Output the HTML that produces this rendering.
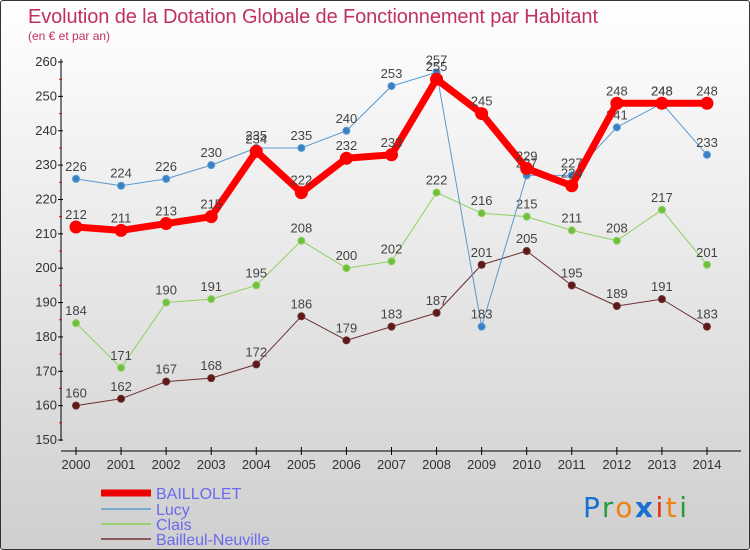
<!DOCTYPE html>
<html><head><meta charset="utf-8"><style>
body{margin:0}
#wrap{position:relative;width:748px;height:548px;border:1px solid #333;border-radius:3px;background:linear-gradient(#ffffff,#cfcfcf);overflow:hidden;font-family:"Liberation Sans",sans-serif}
</style></head><body>
<div id="wrap">
<svg id="svg" width="748" height="548" xmlns="http://www.w3.org/2000/svg" style="position:absolute;left:0;top:0" font-family="'Liberation Sans',sans-serif">
<text x="27" y="22" font-size="20" fill="#c03060" textLength="570">Evolution de la Dotation Globale de Fonctionnement par Habitant</text>
<text x="27" y="39" font-size="12" fill="#c03060">(en € et par an)</text>
<g id="axes"></g><g id="series"></g>
<g>
<line x1="100" y1="492" x2="150" y2="492" stroke="#e00" stroke-width="7"/>
<text x="155" y="498" font-size="16" fill="#6a6aee">BAILLOLET</text>
<line x1="100" y1="508" x2="150" y2="508" stroke="#7aaed0" stroke-width="2"/>
<text x="155" y="514" font-size="16" fill="#6a6aee">Lucy</text>
<line x1="100" y1="523" x2="150" y2="523" stroke="#99d070" stroke-width="2"/>
<text x="155" y="529" font-size="16" fill="#6a6aee">Clais</text>
<line x1="100" y1="538" x2="150" y2="538" stroke="#8a5a5a" stroke-width="2"/>
<text x="155" y="544" font-size="16" fill="#6a6aee">Bailleul-Neuville</text>
</g>
<g font-size="28" font-family="'DejaVu Sans',sans-serif">
<text x="582" y="516" textLength="104"><tspan fill="#1a6fd0">P</tspan><tspan fill="#2a9a40">r</tspan><tspan fill="#f08010">o</tspan><tspan fill="#1a6fd0" font-weight="bold">x</tspan><tspan fill="#e03010">i</tspan><tspan fill="#f08010">t</tspan><tspan fill="#2a9a40">i</tspan></text>
</g>
</svg>
</div>
<script>
const years=[2000,2001,2002,2003,2004,2005,2006,2007,2008,2009,2010,2011,2012,2013,2014];
const baillolet=[212,211,213,215,234,222,232,233,255,245,229,224,248,248,248];
const lucy=[226,224,226,230,235,235,240,253,257,183,227,227,241,248,233];
const clais=[184,171,190,191,195,208,200,202,222,216,215,211,208,217,201];
const bailleul=[160,162,167,168,172,186,179,183,187,201,205,195,189,191,183];
const yTicks=[150,160,170,180,190,200,210,220,230,240,250,260];
const NS="http://www.w3.org/2000/svg";
const X=i=>75+i*45.07, Y=v=>439-(v-150)*3.436;
function mk(t,a,p){const e=document.createElementNS(NS,t);for(const k in a)e.setAttribute(k,a[k]);p.appendChild(e);return e;}
const ax=document.getElementById('axes');
const ya=mk('line',{x1:60,y1:58,x2:60,y2:440,stroke:'#000'},ax);


const xa=mk('line',{x1:60,y1:450,x2:740,y2:450,stroke:'#000'},ax);


yTicks.forEach(v=>{
 mk('line',{x1:57,y1:Y(v),x2:62,y2:Y(v),stroke:'#000'},ax);
 if(v<260) mk('line',{x1:58,y1:Y(v+5),x2:61,y2:Y(v+5),stroke:'#e00'},ax);
 const t=mk('text',{x:56,y:Y(v)+4,'font-size':13,fill:'#333','text-anchor':'end'},ax);t.textContent=v;
 
 
});
years.forEach((y,i)=>{
 mk('line',{x1:X(i),y1:446,x2:X(i),y2:454,stroke:'#000'},ax);
 const t=mk('text',{x:X(i),y:468,'font-size':13,fill:'#333','text-anchor':'middle'},ax);t.textContent=y;
 
 
});
const sg=document.getElementById('series');
function series(d,name,col,w,r,dot){
 const g=mk('g',{},sg);
 
 
 mk('polyline',{points:d.map((v,i)=>X(i)+','+Y(v)).join(' '),fill:'none',stroke:col,'stroke-width':w,'stroke-linejoin':'round'},g);
 d.forEach((v,i)=>{
  const c=mk('circle',{cx:X(i),cy:Y(v),r:r,fill:dot,stroke:col,'stroke-width':1},g);
  
  
  const t=mk('text',{x:X(i),y:Y(v)-8,'font-size':13,fill:'#444','text-anchor':'middle'},g);t.textContent=v;
 });
}
series(bailleul,'bailleul','#6a3030',1,3.5,'#601818');
series(clais,'clais','#90d060',1,3.5,'#70c040');
series(lucy,'lucy','#5a9ad0',1,3.5,'#3a80c8');
series(baillolet,'baillolet','#f00',7,6,'#f00');
</script>
</body></html>
